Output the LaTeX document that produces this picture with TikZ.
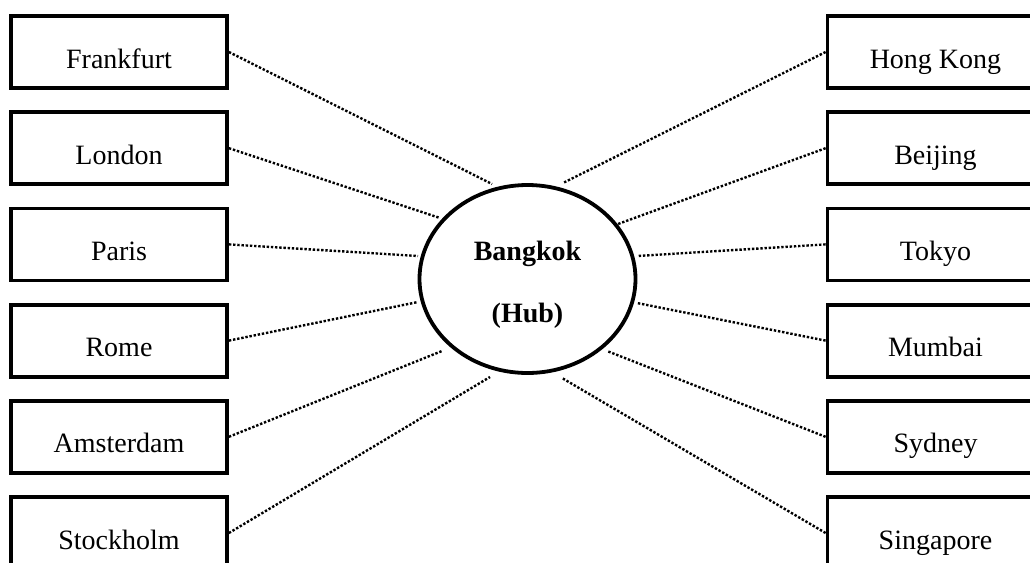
\documentclass[tikz,border=0pt]{standalone}
\usepackage{fontspec}
\setmainfont{Liberation Serif}
\usetikzlibrary{shapes.geometric}
\begin{document}
\begin{tikzpicture}[x=0.5pt,y=-0.5pt,
  city/.style={draw, line width=1.9pt, minimum width=108pt, inner xsep=0pt, inner ysep=0pt,
    text height=26pt, text depth=10pt, font=\fontsize{14pt}{17pt}\selectfont},
  hubshape/.style={draw, ellipse, line width=1.9pt, minimum width=108pt, minimum height=94pt, inner sep=0pt},
  hubtext/.style={anchor=base, inner sep=0pt, font=\fontsize{14pt}{17pt}\selectfont\bfseries},
  link/.style={line width=1.2pt, dash pattern=on 1.2pt off 0.9pt}]
\clip (0,0) rectangle (1030,563);
% left boxes
\node[city] (fra) at (119,52) {Frankfurt};
\node[city] (lon) at (119,148.2) {London};
\node[city] (par) at (119,244.4) {Paris};
\node[city] (rom) at (119,340.6) {Rome};
\node[city] (ams) at (119,436.8) {Amsterdam};
\node[city] (sto) at (119,533) {Stockholm};
% right boxes
\node[city] (hkg) at (935.5,52) {Hong Kong};
\node[city] (bei) at (935.5,148.2) {Beijing};
\node[city] (tok) at (935.5,244.4) {Tokyo};
\node[city] (mum) at (935.5,340.6) {Mumbai};
\node[city] (syd) at (935.5,436.8) {Sydney};
\node[city] (sin) at (935.5,533) {Singapore};
% hub
\node[hubshape] (hub) at (527.5,279) {};
\node[hubtext] (bkk) at (527.5,260) {Bangkok};
\node[hubtext] (hubl) at (527.5,322) {(Hub)};
% connector ends near the hub
\coordinate (eF) at (492,184);
\coordinate (eL) at (440,218);
\coordinate (eP) at (418,256);
\coordinate (eR) at (418,302);
\coordinate (eA) at (442,351);
\coordinate (eS) at (490,377);
\coordinate (eH) at (563,183);
\coordinate (eB) at (618,224);
\coordinate (eT) at (637,256);
\coordinate (eM) at (637,303);
\coordinate (eY) at (607,351);
\coordinate (eG) at (562,378);
% connectors
\draw[link] (fra.east) -- (eF);
\draw[link] (lon.east) -- (eL);
\draw[link] (par.east) -- (eP);
\draw[link] (rom.east) -- (eR);
\draw[link] (ams.east) -- (eA);
\draw[link] (sto.east) -- (eS);
\draw[link] (hkg.west) -- (eH);
\draw[link] (bei.west) -- (eB);
\draw[link] (tok.west) -- (eT);
\draw[link] (mum.west) -- (eM);
\draw[link] (syd.west) -- (eY);
\draw[link] (sin.west) -- (eG);
\end{tikzpicture}
\end{document}
